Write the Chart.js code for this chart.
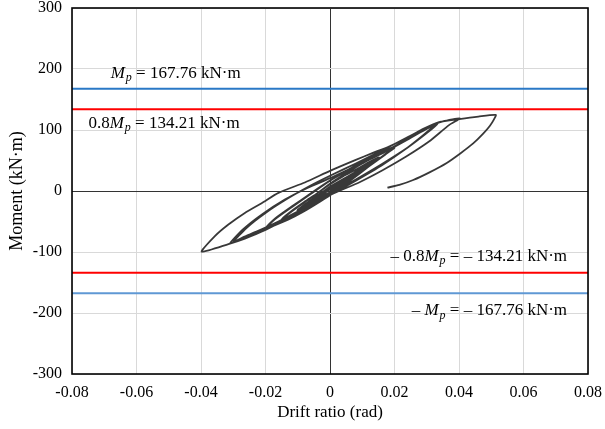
<!DOCTYPE html>
<html>
<head>
<meta charset="utf-8">
<script src="https://cdn.jsdelivr.net/npm/chart.js@4"></script>
<style>
  html, body { margin: 0; padding: 0; background: #fff; }
  #wrap { width: 605px; height: 429px; }
</style>
</head>
<body>
<div id="wrap"><canvas id="myChart" width="605" height="429"></canvas></div>
<script>
// axis ticks
const xTicks = [-0.08, -0.06, -0.04, -0.02, 0, 0.02, 0.04, 0.06, 0.08];
const yTicks = [-300, -200, -100, 0, 100, 200, 300];

// plastic moment levels (kN·m)
const mp = 167.76;
const mp08 = 134.21;
const refDrift = [-0.08, 0.08];

// [drift ratio, moment] - small cycles up to 0.01 rad
const cyclesElastic = [
  [0, 0], [0.0019, 7], [0.0037, 12], [0.0019, 5], [0, -2], [-0.0019, -7], [-0.0037, -11],
  [-0.0018, -4], [0, 3], [0.0020, 8], [0.0038, 13], [0.0019, 5], [0, -2], [-0.0020, -7], [-0.0038, -12],
  [-0.0018, -4], [0, 3], [0.0025, 10], [0.0050, 17], [0.0025, 8], [0, -3], [-0.0025, -9], [-0.0050, -16],
  [-0.0025, -6], [0, 4], [0.0026, 11], [0.0051, 18], [0.0025, 8], [0, -3], [-0.0025, -9], [-0.0050, -16],
  [-0.0025, -6], [0, 4], [0.0038, 15], [0.0075, 26], [0.0056, 18], [0.0030, 8], [0, -4], [-0.0038, -14], [-0.0075, -23],
  [-0.0055, -15], [-0.0028, -5], [0, 5], [0.0038, 16], [0.0076, 27], [0.0056, 18], [0.0030, 8], [0, -4], [-0.0038, -14], [-0.0076, -24],
  [-0.0055, -15], [-0.0028, -5], [0, 6], [0.0050, 21], [0.0100, 35], [0.0075, 25], [0.0040, 11], [0, -5], [-0.0050, -19], [-0.0100, -31],
  [-0.0073, -20], [-0.0038, -7], [0, 7], [0.0050, 22], [0.0101, 36], [0.0075, 25], [0.0040, 11], [0, -5], [-0.0050, -19], [-0.0101, -32],
  [-0.0073, -20], [-0.0038, -7], [0, 7]
];

// 0.015 and 0.02 rad cycles
const cyclesMedium = [
  [0.0075, 30], [0.0120, 45], [0.0150, 54],
  [0.0125, 45], [0.0080, 26], [0.0030, 5], [0, -7], [-0.0040, -20], [-0.0080, -32], [-0.0120, -41], [-0.0150, -46],
  [-0.0125, -35], [-0.0080, -18], [-0.0040, -4], [0, 11], [0.0040, 24], [0.0080, 35], [0.0120, 47], [0.0152, 55],
  [0.0127, 45], [0.0080, 26], [0.0030, 5], [0, -7], [-0.0040, -20], [-0.0080, -32], [-0.0120, -42], [-0.0151, -47],
  [-0.0125, -36], [-0.0080, -19], [-0.0040, -4], [0, 12], [0.0050, 29], [0.0100, 45], [0.0150, 60], [0.0200, 71],
  [0.0172, 60], [0.0120, 40], [0.0060, 16], [0.0020, 0], [-0.0030, -17], [-0.0080, -33], [-0.0130, -46], [-0.0170, -55], [-0.0200, -61],
  [-0.0170, -45], [-0.0120, -26], [-0.0060, -4], [0, 17], [0.0060, 36], [0.0120, 53], [0.0170, 66], [0.0203, 73],
  [0.0175, 62], [0.0120, 40], [0.0060, 16], [0.0020, 0], [-0.0030, -17], [-0.0080, -33], [-0.0130, -47], [-0.0170, -56], [-0.0201, -62],
  [-0.0170, -46], [-0.0120, -27], [-0.0060, -5], [0, 17], [0.0080, 40], [0.0160, 62], [0.0240, 85], [0.0290, 99], [0.0325, 108]
];

// 0.03 and 0.04 rad cycles
const cyclesLarge = [
  [0.0290, 92], [0.0230, 67], [0.0160, 42], [0.0080, 17], [0, -7], [-0.0080, -30], [-0.0160, -52], [-0.0230, -69], [-0.0280, -80], [-0.0310, -86],
  [-0.0270, -63], [-0.0210, -38], [-0.0140, -14], [-0.0070, 5], [0, 21], [0.0080, 41], [0.0160, 61], [0.0240, 84], [0.0300, 102], [0.0333, 110],
  [0.0300, 95], [0.0240, 71], [0.0160, 44], [0.0080, 19], [0, -5], [-0.0080, -28], [-0.0160, -50], [-0.0230, -67], [-0.0270, -76], [-0.0300, -84],
  [-0.0260, -61], [-0.0200, -36], [-0.0130, -12], [-0.0060, 9], [0, 25], [0.0080, 45], [0.0160, 66], [0.0240, 88], [0.0300, 104], [0.0350, 114], [0.0403, 119],
  [0.0369, 108], [0.0307, 81], [0.0235, 56], [0.0163, 34], [0.0090, 14], [0.0028, 0], [-0.0057, -21], [-0.0129, -44], [-0.0200, -64], [-0.0264, -78], [-0.0315, -87], [-0.0398, -99.5]
];

// last push past 0.05 rad and unloading
const finalPush = [
  [-0.0357, -74], [-0.0315, -55], [-0.0264, -36], [-0.0212, -20], [-0.0160, -3], [-0.0078, 14], [0, 33], [0.0080, 51],
  [0.0131, 62], [0.0183, 73], [0.0235, 86], [0.0286, 101], [0.0338, 113], [0.0401, 118], [0.0460, 122], [0.0514, 124.6],
  [0.0508, 117], [0.0496, 107], [0.0475, 94], [0.0444, 78], [0.0405, 62], [0.0362, 46], [0.0310, 31], [0.0258, 18], [0.0215, 10], [0.0178, 5.5]
];

const loop = [...cyclesElastic, ...cyclesMedium, ...cyclesLarge, ...finalPush].map(p => ({ x: p[0], y: p[1] }));
const level = v => refDrift.map(x => ({ x: x, y: v }));

const serif = '"Liberation Serif", "Times New Roman", serif';

// text next to the reference lines: [text, style] where style i = italic, s = italic subscript
const refLabels = [
  { x: -0.0680, y: 193, align: 'left', parts: [['M', 'i'], ['p', 's'], [' = 167.76 kN·m', '']] },
  { x: -0.0749, y: 111, align: 'left', parts: [['0.8', ''], ['M', 'i'], ['p', 's'], [' = 134.21 kN·m', '']] },
  { x: 0.0732, y: -107, align: 'right', parts: [['– 0.8', ''], ['M', 'i'], ['p', 's'], [' = – 134.21 kN·m', '']] },
  { x: 0.0732, y: -196, align: 'right', parts: [['– ', ''], ['M', 'i'], ['p', 's'], [' = – 167.76 kN·m', '']] }
];

const fontFor = s => s === 'i' ? 'italic 17px ' + serif : s === 's' ? 'italic 12px ' + serif : '17px ' + serif;

const labelPlugin = {
  id: 'refLabels',
  afterDatasetsDraw(chart) {
    const { ctx, scales } = chart;
    ctx.save();
    ctx.fillStyle = '#000';
    ctx.textBaseline = 'middle';
    ctx.textAlign = 'left';
    refLabels.forEach(lb => {
      let w = 0;
      lb.parts.forEach(p => { ctx.font = fontFor(p[1]); w += ctx.measureText(p[0]).width; });
      let px = scales.x.getPixelForValue(lb.x);
      const py = scales.y.getPixelForValue(lb.y);
      if (lb.align === 'right') px -= w;
      lb.parts.forEach(p => {
        ctx.font = fontFor(p[1]);
        ctx.fillText(p[0], px, p[1] === 's' ? py + 5 : py);
        px += ctx.measureText(p[0]).width + (p[1] === 'i' ? 1 : 0);
      });
    });
    ctx.restore();
  },
  afterDraw(chart) {
    const { ctx, chartArea: a } = chart;
    ctx.save();
    ctx.strokeStyle = '#000';
    ctx.lineWidth = 1.6;
    ctx.strokeRect(a.left, a.top, a.right - a.left, a.bottom - a.top);
    ctx.restore();
  }
};

const gridColor = ctx => (ctx.tick && ctx.tick.value === 0) ? '#333333' : '#d9d9d9';

// keep the plot box fixed: no extra room for overhanging tick labels
const noOverhang = s => { s.paddingTop = 0; s.paddingBottom = 0; s.paddingLeft = 0; s.paddingRight = 0; };

new Chart(document.getElementById('myChart').getContext('2d'), {
  type: 'scatter',
  data: {
    datasets: [
      { data: level(mp), borderColor: '#2a78c6', borderWidth: 2, showLine: true, pointRadius: 0 },
      { data: level(mp08), borderColor: '#ff0000', borderWidth: 2, showLine: true, pointRadius: 0 },
      { data: level(-mp08), borderColor: '#ff0000', borderWidth: 2, showLine: true, pointRadius: 0 },
      { data: level(-mp), borderColor: '#5f98d4', borderWidth: 2, showLine: true, pointRadius: 0 },
      { data: loop, borderColor: '#383838', borderWidth: 1.8, showLine: true, pointRadius: 0, tension: 0.2 }
    ]
  },
  options: {
    responsive: false,
    animation: false,
    layout: { padding: { left: 0, right: 17, top: 8, bottom: 0 } },
    plugins: { legend: { display: false }, tooltip: { enabled: false } },
    scales: {
      x: {
        type: 'linear',
        min: -0.08,
        max: 0.08,
        afterBuildTicks: s => { s.ticks = xTicks.map(v => ({ value: v })); },
        afterFit: s => { s.height = 55; noOverhang(s); },
        ticks: {
          color: '#000',
          padding: 9,
          maxRotation: 0,
          font: { family: serif, size: 16 },
          callback: v => v === 0 ? '0' : v.toFixed(2)
        },
        grid: { color: gridColor, lineWidth: 1, drawTicks: false },
        border: { display: false },
        title: { display: true, text: 'Drift ratio (rad)', color: '#000', font: { family: serif, size: 17 }, padding: { top: 0, bottom: 6 } }
      },
      y: {
        type: 'linear',
        min: -300,
        max: 300,
        afterBuildTicks: s => { s.ticks = yTicks.map(v => ({ value: v })); },
        afterFit: s => { s.width = 72; noOverhang(s); },
        ticks: {
          color: '#000',
          padding: 10,
          font: { family: serif, size: 16 },
          callback: v => String(v)
        },
        grid: { color: gridColor, lineWidth: 1, drawTicks: false },
        border: { display: false },
        title: { display: true, text: 'Moment (kN·m)', color: '#000', font: { family: serif, size: 18 }, padding: { top: 6, bottom: 0 } }
      }
    }
  },
  plugins: [labelPlugin]
});
</script>
</body>
</html>
